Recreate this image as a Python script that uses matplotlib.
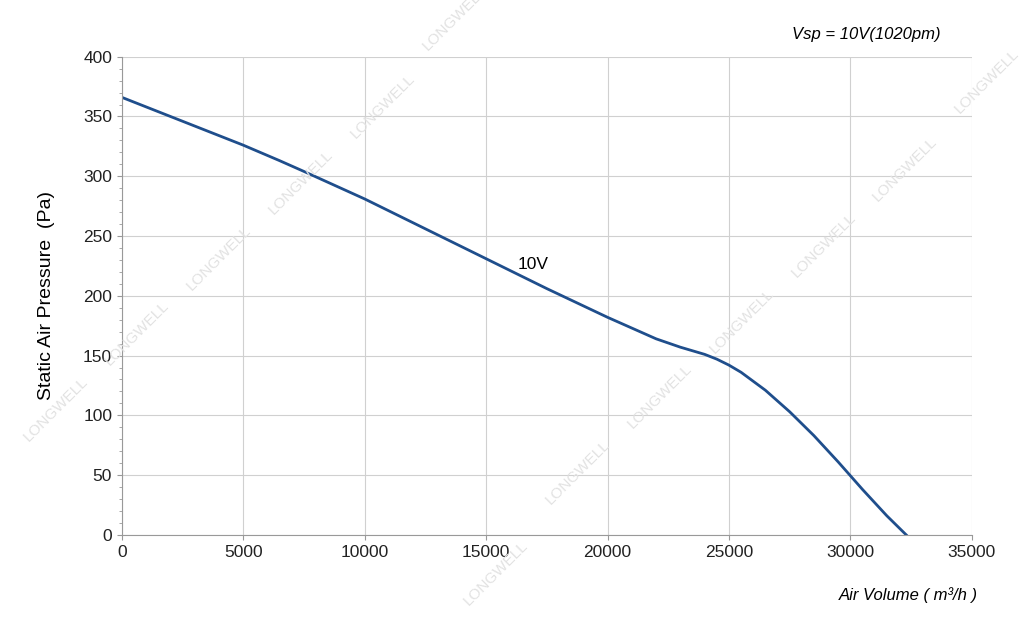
import matplotlib.pyplot as plt
from matplotlib.ticker import AutoMinorLocator

plt.rcParams['font.family'] = ['Liberation Sans', 'DejaVu Sans']

air_volume = [0, 2500, 5000, 6500, 7500, 10000, 12500, 15000, 17500, 20000, 21000, 22000,
              23000, 24000, 24500, 25000, 25500, 26500, 27500, 28500, 29500, 30500, 31500, 32300]
pressure = [366, 346, 326, 313, 304, 281, 256, 231, 206, 182, 173, 164,
            157, 151, 147, 142, 136, 121, 103, 83, 61, 38, 16, 0]

fig = plt.figure(figsize=(10.24, 6.3), dpi=100)
ax = fig.add_axes([0.119, 0.151, 0.830, 0.759])

# faint watermark
for x, y in [(0.02, 0.3), (0.1, 0.42), (0.18, 0.54), (0.26, 0.66), (0.34, 0.78), (0.41, 0.92),
             (0.45, 0.04), (0.53, 0.2), (0.61, 0.32), (0.69, 0.44), (0.77, 0.56), (0.85, 0.68), (0.93, 0.82)]:
    fig.text(x, y, "LONGWELL", rotation=45, color="#e2e2e2", fontsize=11, zorder=0)

ax.patch.set_alpha(0)
ax.plot(air_volume, pressure, color="#1f4e8c", lw=2)
ax.text(16300, 222, "10V", fontsize=12.5)

ax.set_xlim(0, 35000)
ax.set_ylim(0, 400)
ax.set_xticks(range(0, 35001, 5000))
ax.set_yticks(range(0, 401, 50))
ax.yaxis.set_minor_locator(AutoMinorLocator(5))
ax.grid(True, color="#d0d0d0", lw=0.8)
ax.set_axisbelow(True)
for s in ["top", "right"]:
    ax.spines[s].set_visible(False)
for s in ["left", "bottom"]:
    ax.spines[s].set_color("#999999")
ax.tick_params(labelsize=12.5, colors="#222222")
ax.tick_params(which="both", color="#999999")
ax.set_ylabel("Static Air Pressure  (Pa)", fontsize=14, labelpad=20)
fig.text(0.955, 0.048, "Air Volume ( m³/h )", ha="right", fontsize=12, style="italic")
fig.text(0.918, 0.938, "Vsp = 10V(1020pm)", ha="right", fontsize=12, style="italic")

fig.savefig("out.png")
